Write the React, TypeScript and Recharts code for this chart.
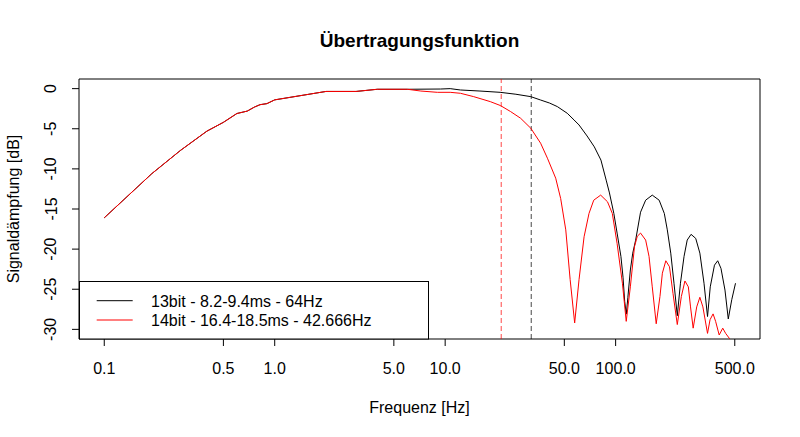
import React from 'react';
import { LineChart, Line, XAxis, YAxis, ReferenceLine, ReferenceArea, Legend, Label } from 'recharts';

const FONT = '"Liberation Sans", Arial, Helvetica, sans-serif';

const title = 'Übertragungsfunktion';
const xTitle = 'Frequenz [Hz]';
const yTitle = 'Signaldämpfung [dB]';
const seriesNames = ['13bit - 8.2-9.4ms - 64Hz', '14bit - 16.4-18.5ms - 42.666Hz'];
const seriesColors = ['#000000', '#ff0000'];
const cutoffFreqs = [21.333, 32];
const cutoffColors = ['#ff0000', '#000000'];

const xTicks = [0.1, 0.5, 1, 5, 10, 50, 100, 500];
const xTickLabels = ['0.1', '0.5', '1.0', '5.0', '10.0', '50.0', '100.0', '500.0'];
const yTicks = [0, -5, -10, -15, -20, -25, -30];

const X_DOMAIN = [0.0711, 703];
const Y_DOMAIN = [-31.2, 1.2];

const blackFreq = [0.1, 0.19, 0.28, 0.4, 0.5, 0.6, 0.69, 0.76, 0.82, 0.9, 1.0, 2.0, 3.0, 4.0, 6.0, 9.4, 10.7, 12.3, 16, 21, 26, 31.8, 36.3, 41, 45.5, 52, 57, 61, 68, 75, 82, 88, 92, 97.6, 102, 107.4, 110.5, 113, 115.5, 118, 122, 126, 131, 140, 150, 164, 180, 193, 201, 210.6, 220, 230, 240, 252, 263, 277, 295, 312, 330, 346, 359, 380, 397, 415, 438, 458, 480, 505];
const blackDb = [-16.1, -10.6, -7.7, -5.3, -4.2, -3.1, -2.8, -2.3, -2.0, -1.87, -1.4, -0.35, -0.35, -0.08, -0.08, -0.05, 0.0, -0.17, -0.3, -0.46, -0.7, -1.0, -1.42, -1.8, -2.24, -3.07, -3.9, -4.53, -5.9, -7.26, -8.9, -11.4, -13.0, -15.55, -18.0, -20.9, -23.5, -26.5, -28.1, -26.0, -22.6, -20.5, -18.9, -15.4, -13.9, -13.27, -13.9, -15.55, -17.6, -20.5, -24.25, -28.3, -24.25, -20.9, -18.87, -18.16, -18.66, -20.5, -24.25, -28.4, -24.7, -22.0, -21.45, -22.4, -25.1, -28.7, -26.3, -24.25];

const redFreq = [0.1, 0.19, 0.28, 0.4, 0.5, 0.6, 0.69, 0.76, 0.82, 0.9, 1.0, 2.0, 3.0, 4.0, 6.0, 7.2, 9.0, 10.7, 12.3, 14.7, 18.4, 21.1, 24.2, 27.7, 31.8, 36.3, 39.8, 44.5, 47.6, 51, 54.1, 57.5, 61, 65.3, 69.8, 74.4, 81.7, 89.6, 95.6, 102, 109.6, 115.4, 122, 129, 134, 140, 150, 157, 164, 173, 182, 188, 197, 207, 217, 230, 243, 255, 267, 275, 285, 299, 312, 325, 346, 358, 373, 386, 405, 425, 442, 464, 480, 500];
const redDb = [-16.1, -10.6, -7.7, -5.3, -4.2, -3.1, -2.8, -2.3, -2.0, -1.87, -1.4, -0.35, -0.35, -0.08, -0.08, -0.3, -0.46, -0.46, -0.58, -1.0, -1.62, -2.11, -2.86, -3.69, -4.94, -6.8, -8.67, -11.16, -13.7, -17.6, -23.8, -29.2, -23.8, -18.46, -15.55, -13.9, -13.27, -14.1, -15.55, -19.3, -24.25, -29.0, -24.7, -19.7, -18.4, -18.0, -18.87, -20.9, -24.7, -29.3, -25.9, -23.0, -21.45, -22.2, -25.5, -29.4, -25.9, -23.97, -24.7, -27.2, -29.85, -27.2, -26.0, -27.2, -30.5, -28.8, -28.07, -29.0, -30.7, -29.85, -30.5, -31.1, -31.5, -32.0];

const blackData = blackFreq.map((f, i) => ({ f, db: blackDb[i] }));
const redData = redFreq.map((f, i) => ({ f, db: redDb[i] }));

const XTick = (props: any) => {
  const { x, y, payload } = props;
  const i = xTicks.indexOf(payload.value);
  return (
    <text x={x} y={y + 28} textAnchor="middle" fontSize={16} fontFamily={FONT} fill="#000">
      {i >= 0 ? xTickLabels[i] : String(payload.value)}
    </text>
  );
};

const YTick = (props: any) => {
  const { x, y, payload } = props;
  const bx = x - 15.5;
  return (
    <text x={bx} y={y} transform={`rotate(-90, ${bx}, ${y})`} textAnchor="middle" fontSize={16} fontFamily={FONT} fill="#000">
      {String(payload.value)}
    </text>
  );
};

const renderLegend = (props: any) => {
  const payload = props.payload || [];
  return (
    <svg width={351} height={59} style={{ display: 'block' }}>
      <rect x={0.5} y={0.5} width={349} height={57.5} fill="#fff" stroke="#000" strokeWidth={1} />
      {payload.map((e: any, i: number) => (
        <g key={i}>
          <line x1={17.7} x2={53.7} y1={19.7 + i * 19.3} y2={19.7 + i * 19.3} stroke={e.color} strokeWidth={1} />
          <text x={72} y={25.7 + i * 19.3} fontSize={16} fontFamily={FONT} fill="#000">{e.value}</text>
        </g>
      ))}
    </svg>
  );
};

export default function App() {
  return (
    <div style={{ position: 'absolute', left: 0, top: 0, width: 800, height: 437, background: '#fff' }}>
      <LineChart width={800} height={437} margin={{ top: 79, right: 40, bottom: 0, left: 0 }}>
        <XAxis
          dataKey="f"
          type="number"
          scale="log"
          domain={X_DOMAIN}
          allowDataOverflow
          ticks={xTicks}
          interval={0}
          height={98}
          axisLine={false}
          tickLine={{ stroke: '#000' }}
          tickSize={7}
          tickMargin={0}
          tick={<XTick />}
        >
          <Label
            content={(p: any) => {
              const vb = p.viewBox;
              return (
                <text x={vb.x + vb.width / 2} y={vb.y + 74} textAnchor="middle" fontSize={16} fontFamily={FONT} fill="#000">
                  {xTitle}
                </text>
              );
            }}
          />
        </XAxis>
        <YAxis
          type="number"
          domain={Y_DOMAIN}
          allowDataOverflow
          ticks={yTicks}
          interval={0}
          width={79}
          axisLine={false}
          tickLine={{ stroke: '#000' }}
          tickSize={7}
          tickMargin={0}
          tick={<YTick />}
        >
          <Label
            content={(p: any) => {
              const vb = p.viewBox;
              const cy = vb.y + vb.height / 2;
              return (
                <text x={19} y={cy} transform={`rotate(-90, 19, ${cy})`} textAnchor="middle" fontSize={16} fontFamily={FONT} fill="#000">
                  {yTitle}
                </text>
              );
            }}
          />
        </YAxis>
        <ReferenceArea
          x1={X_DOMAIN[0]}
          x2={X_DOMAIN[1]}
          y1={Y_DOMAIN[0]}
          y2={Y_DOMAIN[1]}
          fill="none"
          stroke="#000"
          strokeWidth={1}
          ifOverflow="visible"
        />
        {cutoffFreqs.map((f, i) => (
          <ReferenceLine
            key={i}
            x={f}
            stroke={cutoffColors[i]}
            strokeOpacity={0.6}
            strokeDasharray="5 3"
            strokeWidth={1.2}
          />
        ))}
        <Line
          data={blackData}
          dataKey="db"
          name={seriesNames[0]}
          stroke={seriesColors[0]}
          strokeWidth={1}
          dot={false}
          isAnimationActive={false}
          type="linear"
        />
        <Line
          data={redData}
          dataKey="db"
          name={seriesNames[1]}
          stroke={seriesColors[1]}
          strokeWidth={1}
          dot={false}
          isAnimationActive={false}
          type="linear"
        />
        <Legend
          layout="horizontal"
          verticalAlign="middle"
          align="center"
          content={renderLegend}
          wrapperStyle={{ position: 'absolute', left: 79, top: 281, right: 'auto', bottom: 'auto', width: 351, height: 59 }}
        />
      </LineChart>
      <svg width={800} height={437} style={{ position: 'absolute', left: 0, top: 0, pointerEvents: 'none' }}>
        <text x={419.5} y={47} textAnchor="middle" fontSize={19} fontWeight="bold" fontFamily={FONT} fill="#000">
          {title}
        </text>
      </svg>
    </div>
  );
}
